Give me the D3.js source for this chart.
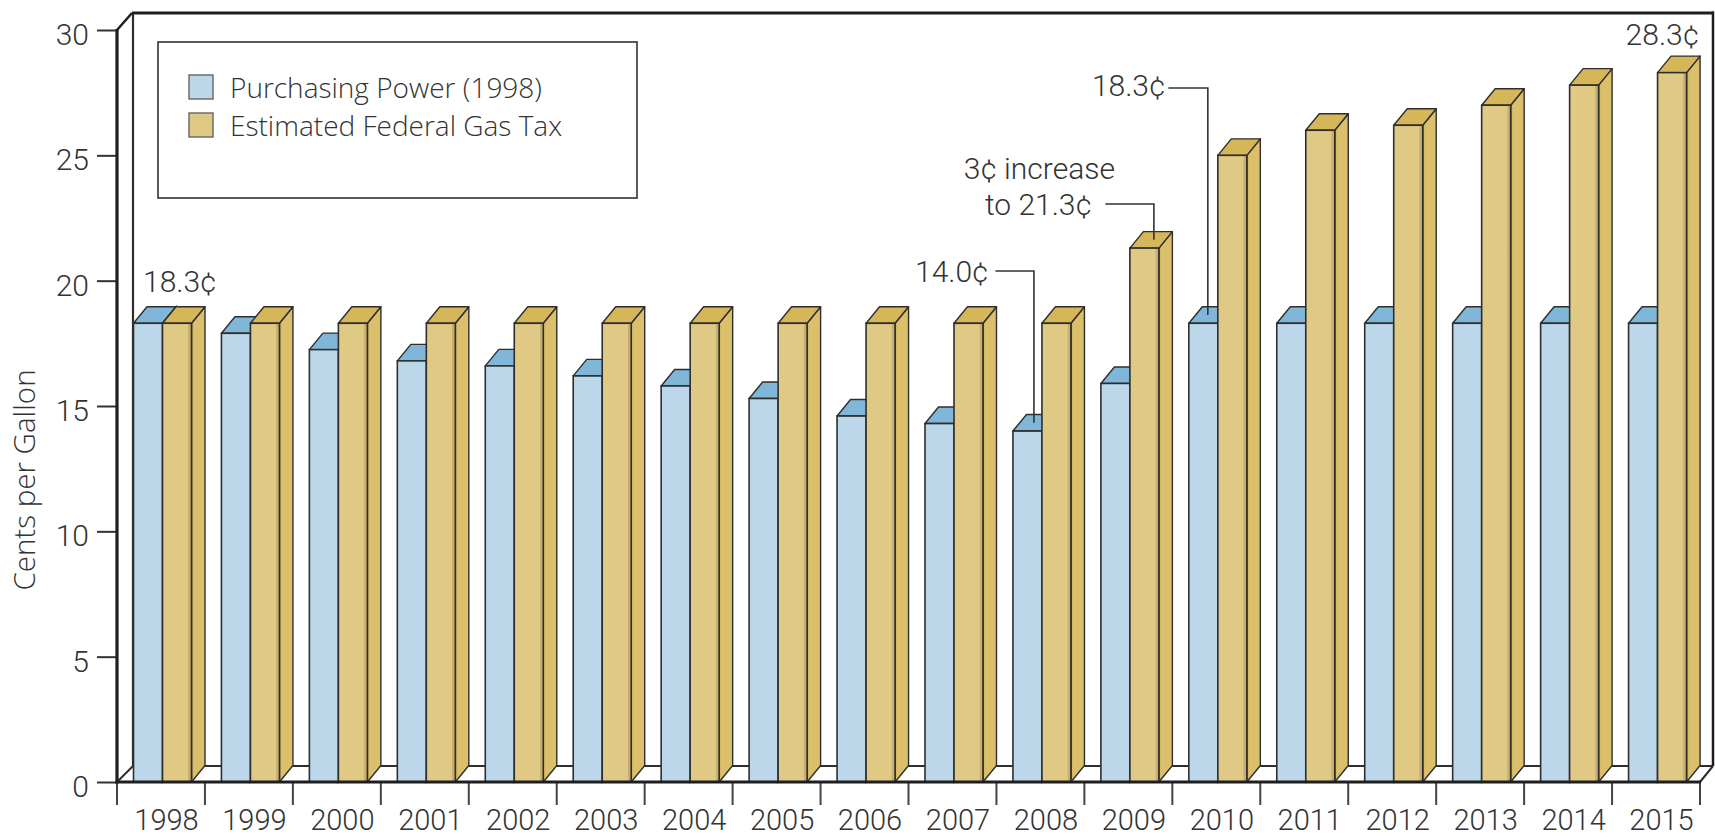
<!DOCTYPE html>
<html>
<head>
<meta charset="utf-8">
<script src="https://cdn.jsdelivr.net/npm/d3@7/dist/d3.min.js"></script>
<style>
  html, body { margin: 0; padding: 0; background: #fff; }
  svg { display: block; }
</style>
</head>
<body>
<svg id="chart" width="1715" height="838"></svg>
<script>
const years = ["1998","1999","2000","2001","2002","2003","2004","2005","2006","2007","2008","2009","2010","2011","2012","2013","2014","2015"];
const purchasingPower = [18.3, 17.9, 17.25, 16.8, 16.6, 16.2, 15.8, 15.3, 14.6, 14.3, 14.0, 15.9, 18.3, 18.3, 18.3, 18.3, 18.3, 18.3];
const federalGasTax   = [18.3, 18.3, 18.3, 18.3, 18.3, 18.3, 18.3, 18.3, 18.3, 18.3, 18.3, 21.3, 25.0, 26.0, 26.2, 27.0, 27.8, 28.3];
const yTicks = [0, 5, 10, 15, 20, 25, 30];
const seriesNames = ["Purchasing Power (1998)", "Estimated Federal Gas Tax"];
const yTitle = "Cents per Gallon";

const svg = d3.select("#chart");
const pLeft = 117, pRight = 1700, pBottom = 782, pTop = 30;
const wallDX = 16, wallDY = -16;   // depth of the back wall
const barDX = 13.5, barDY = -16.5; // depth of bars

const x = d3.scaleBand().domain(years).range([pLeft, pRight]).padding(0);
const y = d3.scaleLinear().domain([0, 30]).range([pBottom, pTop]);

const C = {
  blueFront: "#bcd7e9", blueTop: "#80b6d7", blueSide: "#9cc3dc",
  goldFront: "#e0c885", goldSide: "#dbbf6b", goldTop: "#d5b75a",
  stroke: "#2e2e2e", text: "#333"
};

const defs = svg.append("defs");
const gf = defs.append("linearGradient").attr("id", "goldFrontGrad").attr("x1", "0").attr("x2", "1").attr("y1", "0").attr("y2", "0");
gf.append("stop").attr("offset", "0").attr("stop-color", C.goldFront);
gf.append("stop").attr("offset", "0.87").attr("stop-color", C.goldFront);
gf.append("stop").attr("offset", "0.9").attr("stop-color", "#c9af6c");
gf.append("stop").attr("offset", "1").attr("stop-color", "#c9af6c");
const gs = defs.append("linearGradient").attr("id", "goldSideGrad").attr("x1", "0").attr("x2", "1").attr("y1", "0").attr("y2", "0");
gs.append("stop").attr("offset", "0").attr("stop-color", "#cdb061");
gs.append("stop").attr("offset", "0.2").attr("stop-color", C.goldSide);
gs.append("stop").attr("offset", "1").attr("stop-color", C.goldSide);

// ----- Back wall and floor -----
const wall = svg.append("g");
wall.append("line").attr("x1", pLeft + wallDX).attr("x2", pRight + wallDX - 3)
  .attr("y1", pBottom + wallDY).attr("y2", pBottom + wallDY)
  .attr("stroke", C.stroke).attr("stroke-width", 2);
wall.append("line").attr("x1", pLeft + wallDX).attr("x2", pLeft + wallDX)
  .attr("y1", pTop + wallDY - 1).attr("y2", pBottom + wallDY)
  .attr("stroke", C.stroke).attr("stroke-width", 2.2);
wall.append("line").attr("x1", pLeft + wallDX - 1).attr("x2", pRight + wallDX - 2)
  .attr("y1", pTop + wallDY - 1).attr("y2", pTop + wallDY - 1)
  .attr("stroke", "#1e1e1e").attr("stroke-width", 3);
wall.append("line").attr("x1", pRight + wallDX - 3).attr("x2", pRight + wallDX - 3)
  .attr("y1", pTop + wallDY - 2.5).attr("y2", pBottom + wallDY)
  .attr("stroke", "#1e1e1e").attr("stroke-width", 2.5);
wall.append("line").attr("x1", pLeft).attr("y1", pTop)
  .attr("x2", pLeft + wallDX - 1).attr("y2", pTop + wallDY - 1)
  .attr("stroke", "#1e1e1e").attr("stroke-width", 2.5);
wall.append("line").attr("x1", pLeft).attr("y1", pBottom)
  .attr("x2", pLeft + wallDX).attr("y2", pBottom + wallDY)
  .attr("stroke", C.stroke).attr("stroke-width", 2);
wall.append("line").attr("x1", pRight).attr("y1", pBottom)
  .attr("x2", pRight + wallDX - 3).attr("y2", pBottom + wallDY)
  .attr("stroke", C.stroke).attr("stroke-width", 2);

// ----- Legend -----
const lg = svg.append("g");
lg.append("rect").attr("x", 158).attr("y", 42).attr("width", 479).attr("height", 156)
  .attr("fill", "#fff").attr("stroke", "#333").attr("stroke-width", 1.6);
const lgColors = [C.blueFront, C.goldFront];
seriesNames.forEach((n, i) => {
  lg.append("rect").attr("x", 189).attr("y", 75 + i * 38).attr("width", 24).attr("height", 24)
    .attr("fill", lgColors[i]).attr("stroke", "#666").attr("stroke-width", 1.4);
  lg.append("text").attr("x", 230).attr("y", 98 + i * 38).text(n)
    .attr("font-family", "'Open Sans', sans-serif").attr("font-weight", 300).attr("font-size", 28)
    .attr("fill", C.text);
});

// ----- Bars -----
const data = years.map((yr, i) => ({ yr, blue: purchasingPower[i], gold: federalGasTax[i] }));
const bars = svg.append("g").selectAll("g").data(data).join("g");
const poly = pts => pts.map(p => p.join(",")).join(" ");

bars.each(function(d) {
  const g = d3.select(this);
  const x0 = x(d.yr);
  const b1 = x0 + 16.5, b2 = x0 + 45.5, g1 = x0 + 45.5, g2 = x0 + 74.5;
  const yb = y(d.blue), yg = y(d.gold), y0 = y(0);
  g.append("polygon").attr("points", poly([[b1, yb], [b1 + barDX, yb + barDY], [b2 + barDX, yb + barDY], [b2, yb]]))
    .attr("fill", C.blueTop).attr("stroke", C.stroke).attr("stroke-width", 1.4).attr("stroke-linejoin", "round");
  g.append("polygon").attr("points", poly([[b2, yb], [b2 + barDX, yb + barDY], [b2 + barDX, y0 + barDY], [b2, y0]]))
    .attr("fill", C.blueSide).attr("stroke", C.stroke).attr("stroke-width", 1.4);
  g.append("rect").attr("x", b1).attr("y", yb).attr("width", b2 - b1).attr("height", y0 - yb)
    .attr("fill", C.blueFront).attr("stroke", C.stroke).attr("stroke-width", 1.6);
  g.append("polygon").attr("points", poly([[g2, yg], [g2 + barDX, yg + barDY], [g2 + barDX, y0 + barDY], [g2, y0]]))
    .attr("fill", "url(#goldSideGrad)").attr("stroke", C.stroke).attr("stroke-width", 1.4).attr("stroke-linejoin", "round");
  g.append("polygon").attr("points", poly([[g1, yg], [g1 + barDX, yg + barDY], [g2 + barDX, yg + barDY], [g2, yg]]))
    .attr("fill", C.goldTop).attr("stroke", C.stroke).attr("stroke-width", 1.4).attr("stroke-linejoin", "round");
  g.append("rect").attr("x", g1).attr("y", yg).attr("width", g2 - g1).attr("height", y0 - yg)
    .attr("fill", "url(#goldFrontGrad)").attr("stroke", C.stroke).attr("stroke-width", 1.6);
});

// ----- Axes -----
const yAxis = svg.append("g").attr("transform", `translate(${pLeft},0)`)
  .call(d3.axisLeft(y).tickValues(yTicks).tickSize(20).tickPadding(8));
yAxis.select(".domain").remove();
yAxis.selectAll(".tick line").attr("stroke", "#333").attr("stroke-width", 2);
yAxis.selectAll(".tick text")
  .attr("font-family", "Roboto, sans-serif").attr("font-weight", 300).attr("font-size", 30)
  .attr("fill", C.text).attr("dy", "0.48em");

svg.append("line").attr("x1", pLeft).attr("x2", pLeft).attr("y1", pTop - 1).attr("y2", pBottom + 1.5)
  .attr("stroke", "#1e1e1e").attr("stroke-width", 3.2);

const xAxis = svg.append("g").attr("transform", `translate(0,${pBottom})`)
  .call(d3.axisBottom(x).tickSize(0).tickPadding(0));
xAxis.select(".domain").remove();
xAxis.selectAll(".tick text")
  .attr("font-family", "Roboto, sans-serif").attr("font-weight", 300).attr("font-size", 29)
  .attr("fill", C.text).attr("x", 5.5).attr("y", 47.5).attr("dy", 0);
const bounds = years.map(yr => x(yr)).concat([x.range()[1]]);
svg.append("g").selectAll("line").data(bounds).join("line")
  .attr("x1", d => d).attr("x2", d => d).attr("y1", pBottom).attr("y2", pBottom + 23)
  .attr("stroke", "#444").attr("stroke-width", 2);
svg.append("line").attr("x1", pLeft - 1.5).attr("x2", pRight + 1).attr("y1", pBottom).attr("y2", pBottom)
  .attr("stroke", "#1e1e1e").attr("stroke-width", 3.2);

svg.append("text").attr("transform", `translate(35,480) rotate(-90)`)
  .attr("text-anchor", "middle").text(yTitle)
  .attr("font-family", "'Open Sans', sans-serif").attr("font-weight", 300).attr("font-size", 29.5).attr("fill", C.text);

// ----- Annotations -----
const ann = svg.append("g").attr("font-family", "Roboto, sans-serif").attr("font-weight", 300)
  .attr("font-size", 30).attr("fill", C.text);
const lineAttr = sel => sel.attr("fill", "none").attr("stroke", "#333").attr("stroke-width", 1.6);

ann.append("text").attr("x", x("1998") + 26).attr("y", 292).text("18.3¢");
ann.append("text").attr("x", x("2015") + 87).attr("y", 45).attr("text-anchor", "end").text("28.3¢");

{
  const x0 = x("2008"), lx = x0 + 37.5, ly = y(purchasingPower[10]) + barDY / 2;
  ann.append("text").attr("x", x0 - 8).attr("y", 282).attr("text-anchor", "end").text("14.0¢");
  ann.append("path").call(lineAttr).attr("d", `M${x0 - 1},271 H${lx} V${ly}`);
}
{
  const x0 = x("2009"), lx = x0 + 69.5, ly = y(federalGasTax[11]) + barDY / 2;
  ann.append("text").attr("x", x0 - 45).attr("y", 179).attr("text-anchor", "middle").text("3¢ increase");
  ann.append("text").attr("x", x0 - 46).attr("y", 215).attr("text-anchor", "middle").text("to 21.3¢");
  ann.append("path").call(lineAttr).attr("d", `M${x0 + 21},204 H${lx} V${ly}`);
}
{
  const x0 = x("2010"), lx = x0 + 35.5, ly = y(purchasingPower[12]) + barDY / 2;
  ann.append("text").attr("x", x0 - 7).attr("y", 96).attr("text-anchor", "end").text("18.3¢");
  ann.append("path").call(lineAttr).attr("d", `M${x0 - 4},88 H${lx} V${ly}`);
}
</script>
</body>
</html>
